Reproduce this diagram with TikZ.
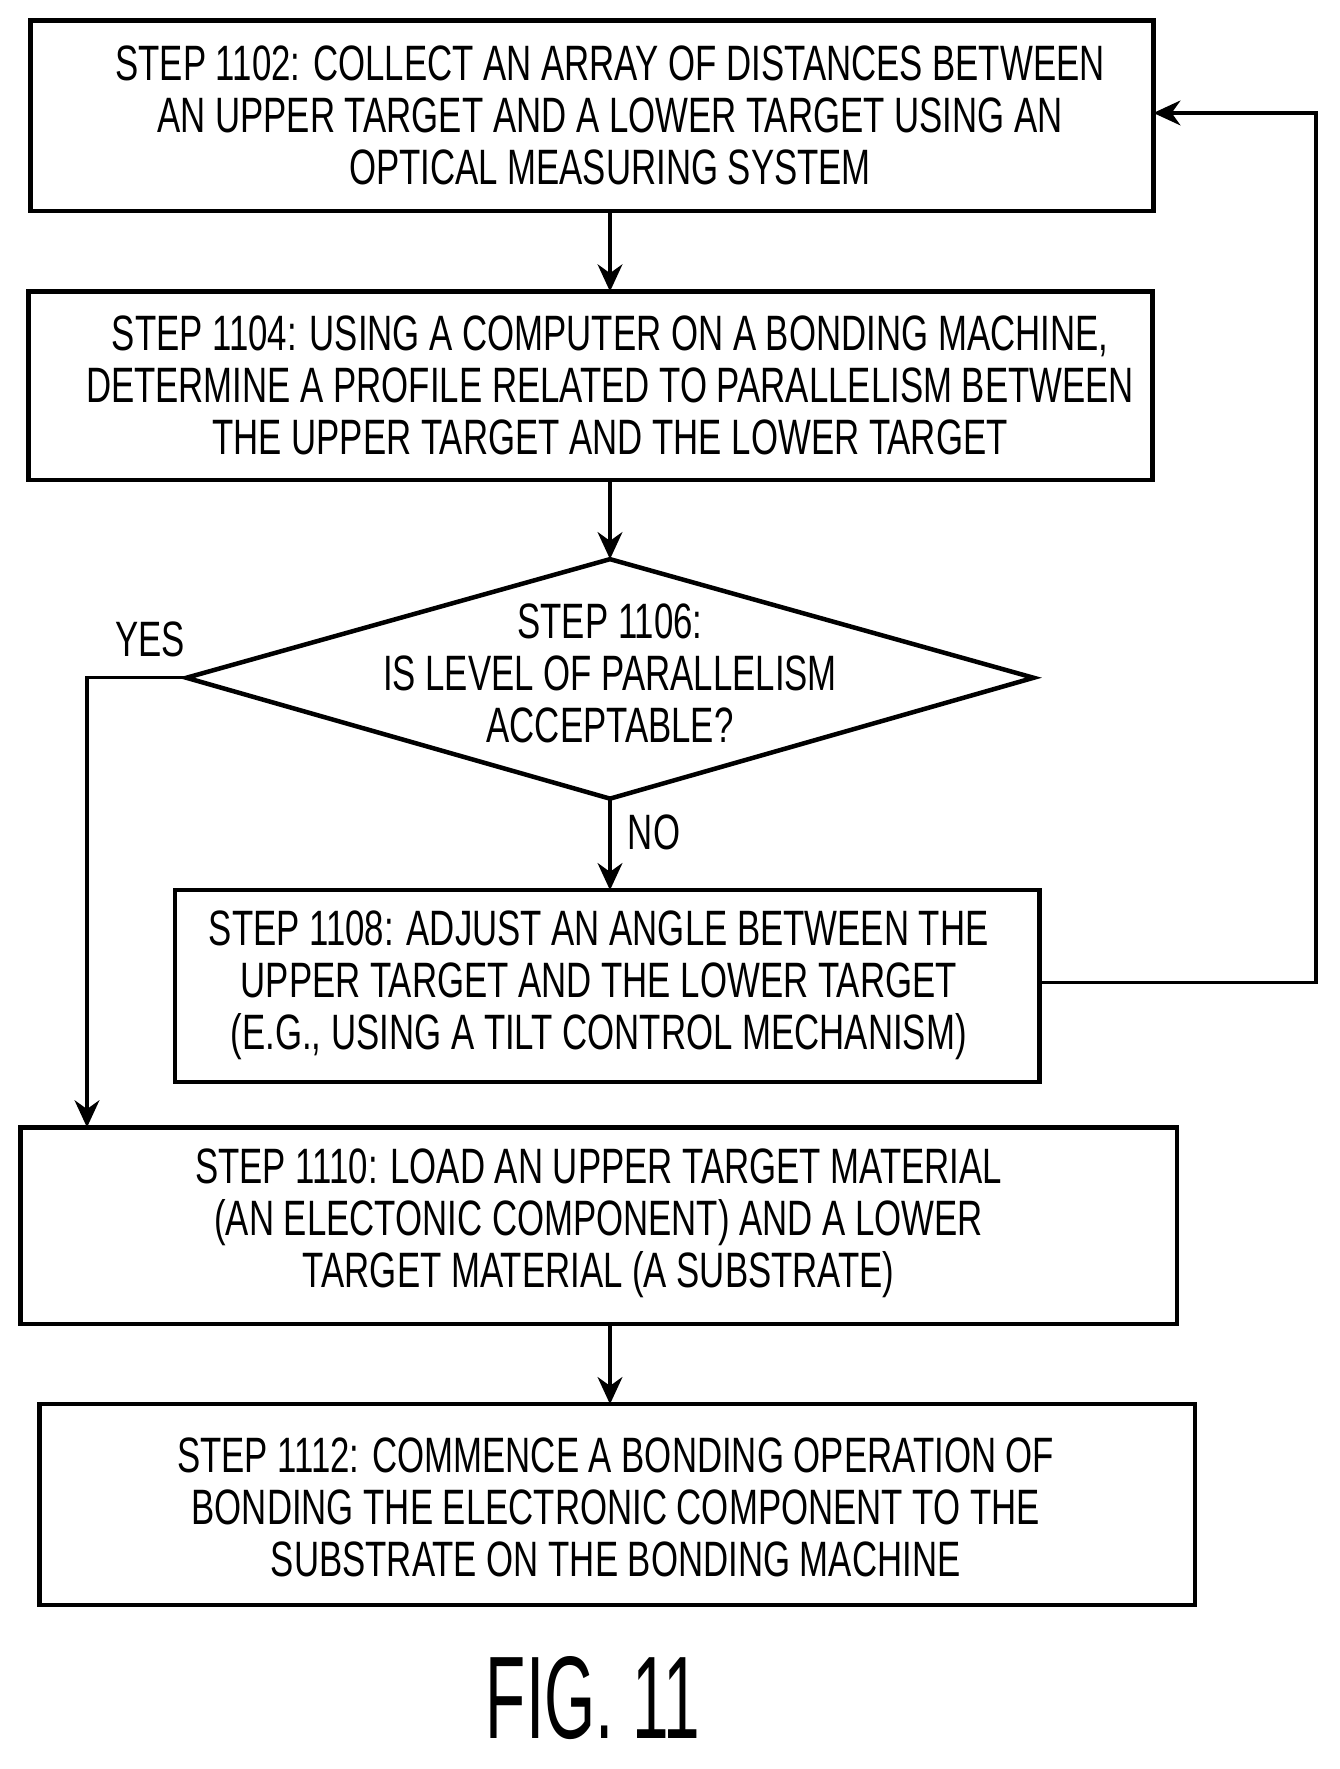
\documentclass[tikz,border=0pt]{standalone}
\usepackage{fontspec}
\setmainfont{Liberation Sans}[FakeStretch=0.7]
\usetikzlibrary{arrows.meta}
\begin{document}
\begin{tikzpicture}[x=0.5pt,y=-0.5pt,
 box/.style={draw,line width=2pt,inner sep=0pt},
 txt/.style={align=center,font=\fontsize{22}{23}\selectfont},
 arr/.style={line width=1.5pt,-{Stealth[length=12pt,width=11pt]}}]
\useasboundingbox (0,0) rectangle (1186,1566);
\draw[box] (27,18) rectangle (1021,187);
\node[txt] (t1) at (540,102) {STEP 1102: COLLECT AN ARRAY OF DISTANCES BETWEEN\\AN UPPER TARGET AND A LOWER TARGET USING AN\\OPTICAL MEASURING SYSTEM};
\coordinate (b1t) at (540,187); \coordinate (b1r) at (1021,100);
\draw[box] (25,258) rectangle (1020,425);
\node[txt] (t2) at (540,341) {STEP 1104: USING A COMPUTER ON A BONDING MACHINE,\\DETERMINE A PROFILE RELATED TO PARALLELISM BETWEEN\\THE UPPER TARGET AND THE LOWER TARGET};
\coordinate (b2t) at (540,258); \coordinate (b2b) at (540,425);
\draw[box] (540,495) coordinate (dt) -- (915,600) -- (540,707) coordinate (db) -- (165,600) coordinate (dl) -- cycle;
\node[txt] (t3) at (540,596) {STEP 1106:\\IS LEVEL OF PARALLELISM\\ACCEPTABLE?};
\draw[box] (155,788) rectangle (920,958);
\node[txt] (t4) at (530,872) {STEP 1108: ADJUST AN ANGLE BETWEEN THE\\UPPER TARGET AND THE LOWER TARGET\\(E.G., USING A TILT CONTROL MECHANISM)};
\coordinate (b4t) at (540,788); \coordinate (b4r) at (920,870);
\draw[box] (18,998) rectangle (1042,1172);
\node[txt] (t5) at (530,1083) {STEP 1110: LOAD AN UPPER TARGET MATERIAL\\(AN ELECTONIC COMPONENT) AND A LOWER\\TARGET MATERIAL (A SUBSTRATE)};
\coordinate (b5t) at (77,998); \coordinate (b5b) at (540,1172);
\draw[box] (35,1243) rectangle (1058,1421);
\node[txt] (t6) at (545,1334) {STEP 1112: COMMENCE A BONDING OPERATION OF\\BONDING THE ELECTRONIC COMPONENT TO THE\\SUBSTRATE ON THE BONDING MACHINE};
\coordinate (b6t) at (540,1243);
\node[font=\fontsize{52}{52}\selectfont,inner sep=0pt] (fig) at (525,1503) {\scalebox{0.8}[1]{FIG. 11}};
\draw[arr] (b1t) -- (b2t);
\draw[arr] (b2b) -- (dt);
\draw[arr] (db) -- (b4t);
\draw[arr] (b5b) -- (b6t);
\draw[arr] (b4r) -- (1165,870) -- (1165,100) -- (b1r);
\draw[arr] (dl) -- (77,600) -- (b5t);
\node[txt] (yes) at (133,566) {YES};
\node[txt] (no) at (579,737) {NO};
\end{tikzpicture}
\end{document}
